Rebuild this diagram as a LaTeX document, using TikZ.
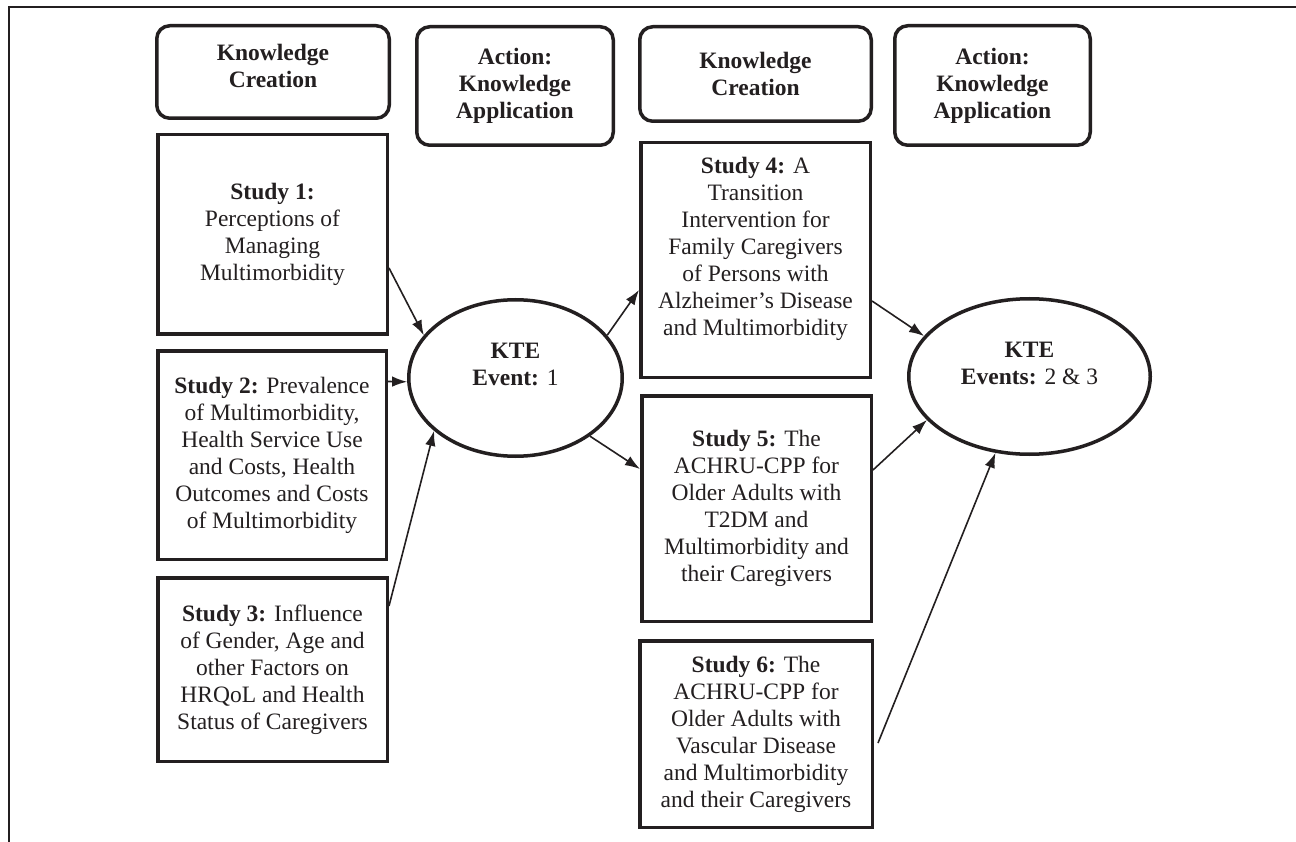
\documentclass[tikz,border=0pt]{standalone}
\usepackage{fontspec}
\setmainfont{Liberation Serif}
\usetikzlibrary{shapes.geometric,arrows.meta}
\definecolor{ink}{RGB}{35,31,32}
\begin{document}
\begin{tikzpicture}[x=1pt,y=-1pt,
  txt/.style={font=\fontsize{23.5}{27}\selectfont, text=ink, align=center, inner sep=0pt},
  headbox/.style={txt, draw=ink, line width=3.5pt, rounded corners=13pt, font=\fontsize{23.5}{27}\selectfont\bfseries},
  studybox/.style={txt, draw=ink, line width=3.5pt},
  kteell/.style={txt, ellipse, draw=ink, line width=3.5pt},
  conn/.style={draw=ink, line width=1.6pt, -{Latex[length=15pt,width=10.5pt]}}]
\useasboundingbox (0,0) rectangle (1296,842);
\fill[white] (0,0) rectangle (1296,842);
% frame
\draw[ink, line width=2.8pt] (9,842) -- (9,7) -- (1296,7);
% headers
\node[headbox, minimum width=232.5pt, minimum height=92.5pt] (kc1) at (273,72) {Knowledge\\Creation\\[-15pt]\mbox{}};
\node[headbox, minimum width=196.5pt, minimum height=118.5pt] (a1) at (515,86) {Action:\\Knowledge\\Application};
\node[headbox, minimum width=231.5pt, minimum height=94.5pt] (kc2) at (755.5,74) {Knowledge\\Creation};
\node[headbox, minimum width=195.5pt, minimum height=119.5pt] (a2) at (992.5,85.5) {Action:\\Knowledge\\Application};
% studies
\node[studybox, minimum width=229.5pt, minimum height=199.5pt] (s1) at (272.5,234.5)
  {\textbf{Study 1:}\\Perceptions of\\Managing\\Multimorbidity};
\node[studybox, minimum width=228.5pt, minimum height=208.5pt] (s2) at (272,455)
  {\textbf{Study 2:} Prevalence\\of Multimorbidity,\\Health Service Use\\and Costs, Health\\Outcomes and Costs\\of Multimorbidity};
\node[studybox, minimum width=229.5pt, minimum height=183.5pt] (s3) at (272.5,669.5)
  {\textbf{Study 3:} Influence\\of Gender, Age and\\other Factors on\\HRQoL and Health\\Status of Caregivers};
\node[studybox, minimum width=229.5pt, minimum height=234.5pt] (s4) at (755.5,260)
  {\textbf{Study 4:} A\\Transition\\Intervention for\\Family Caregivers\\of Persons with\\Alzheimer’s Disease\\and Multimorbidity\\\mbox{}};
\node[studybox, minimum width=229.5pt, minimum height=225.5pt] (s5) at (756.5,508.5)
  {\textbf{Study 5:} The\\ACHRU-CPP for\\Older Adults with\\T2DM and\\Multimorbidity and\\their Caregivers};
\node[studybox, minimum width=232.5pt, minimum height=186.5pt] (s6) at (756,734)
  {\textbf{Study 6:} The\\ACHRU-CPP for\\Older Adults with\\Vascular Disease\\and Multimorbidity\\and their Caregivers};
% KTE events
\node[kteell, minimum width=213.5pt, minimum height=156.5pt] (kte1) at (515.5,378)
  {\textbf{KTE}\\\textbf{Event:} 1\\\mbox{}};
\node[kteell, minimum width=241.5pt, minimum height=155.5pt] (kte2) at (1029.5,376.5)
  {\textbf{KTE}\\\textbf{Events:} 2 \& 3\\\mbox{}};
% connectors
\draw[conn] ([yshift=-33.5pt]s1.east) -- (kte1.155);
\draw[conn] ([yshift=73.5pt]s2.east) -- (kte1.182);
\draw[conn] ([yshift=63.5pt]s3.east) -- (kte1.213);
\draw[conn] (kte1.25) -- ([yshift=-30pt]s4.west);
\draw[conn] (kte1.-38) -- ([yshift=39.5pt]s5.west);
\draw[conn] ([yshift=-41pt]s4.east) -- (kte2.159);
\draw[conn] ([yshift=38.5pt]s5.east) -- (kte2.203);
\draw[conn] ([xshift=4pt,yshift=-9pt]s6.east) -- (kte2.246);
\end{tikzpicture}
\end{document}
